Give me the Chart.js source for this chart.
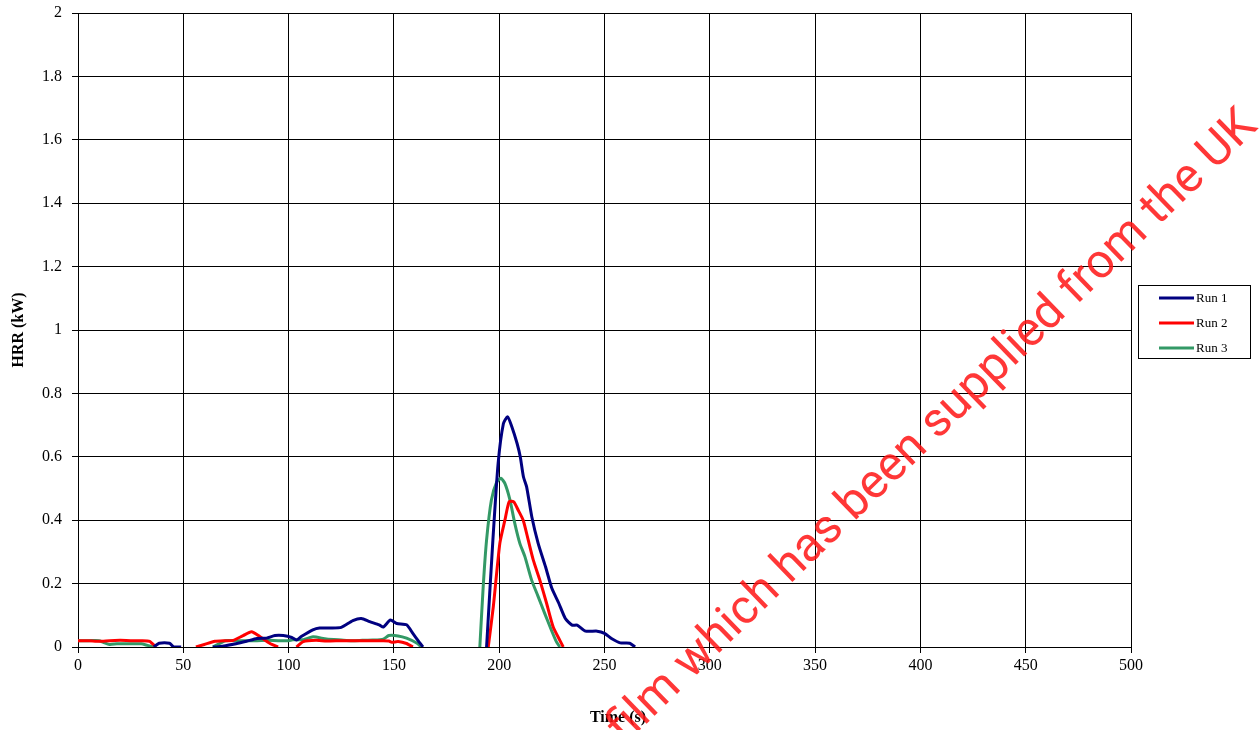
<!DOCTYPE html>
<html>
<head>
<meta charset="utf-8">
<script src="https://cdn.jsdelivr.net/npm/chart.js@4"></script>
<style>
  html, body { margin: 0; padding: 0; background: #fff; }
  #hrrChart { display: block; }
</style>
</head>
<body>
<canvas id="hrrChart" width="1260" height="730"></canvas>
<script>
// values (time in s, HRR in kW); null = gap where the trace leaves the plot
const run1Time = [36, 38.5, 43.5, 45.5, 49, 55, 64, 66, 70, 75, 80, 85, 89.5, 93.5, 97.5, 101.5, 103.7, 106, 111.5, 114.7, 120, 125, 130.5, 134.5, 138.5, 143, 145, 148.3, 151.4, 156, 159, 161.5, 163.8, 175, 194, 197, 199.5, 202, 204, 206, 208.5, 210, 211.5, 213, 215.5, 218.5, 222, 225, 228.3, 231.4, 234.6, 237, 241, 246.5, 250, 253.5, 257.5, 262, 264.5];
const run1Hrr  = [0, 0.012, 0.012, 0, 0, null, 0, 0, 0.004, 0.01, 0.018, 0.027, 0.028, 0.036, 0.036, 0.03, 0.022, 0.033, 0.054, 0.06, 0.06, 0.062, 0.083, 0.09, 0.08, 0.07, 0.063, 0.085, 0.074, 0.07, 0.043, 0.02, 0, null, 0, 0.337, 0.58, 0.705, 0.726, 0.695, 0.642, 0.6, 0.537, 0.506, 0.41, 0.327, 0.253, 0.185, 0.138, 0.09, 0.069, 0.069, 0.05, 0.05, 0.043, 0.026, 0.013, 0.012, 0];

const run2Time = [0, 5, 10, 15, 20, 25, 30, 34, 37, 45, 56, 60, 65, 70, 73.7, 78.4, 82.4, 86.3, 91, 95, 100, 103.7, 107, 113, 118, 125, 130, 135, 140, 145, 147.6, 149, 152, 156, 159, 175, 194.8, 197.2, 200.3, 202.7, 204.7, 206.9, 209, 211.4, 213.8, 216.2, 219.3, 222.5, 225.6, 228.8, 230.4];
const run2Hrr  = [0.02, 0.02, 0.018, 0.02, 0.021, 0.02, 0.02, 0.018, 0, null, 0, 0.008, 0.018, 0.02, 0.021, 0.036, 0.048, 0.033, 0.012, 0, null, 0, 0.017, 0.021, 0.019, 0.02, 0.02, 0.02, 0.02, 0.02, 0.019, 0.015, 0.017, 0.011, 0, null, 0, 0.127, 0.327, 0.4, 0.458, 0.458, 0.432, 0.4, 0.337, 0.274, 0.211, 0.138, 0.064, 0.021, 0];

const run3Time = [0, 5, 10, 12, 15, 18.5, 25, 30, 33, 36, 45, 64, 67, 70, 75, 80, 85, 90, 95, 100, 102, 107, 111.6, 118, 125, 130, 135, 140, 145, 147.6, 152, 156, 161, 163, 175, 190.8, 192.4, 194, 196.3, 198.8, 200.8, 202.7, 205.1, 207.4, 209.8, 212.2, 215.4, 218.5, 221.6, 224.8, 227.2, 228.8];
const run3Hrr  = [0.02, 0.02, 0.02, 0.015, 0.008, 0.01, 0.01, 0.01, 0.005, 0, null, 0, 0.01, 0.02, 0.02, 0.02, 0.02, 0.021, 0.02, 0.02, 0.023, 0.023, 0.032, 0.025, 0.022, 0.02, 0.021, 0.022, 0.025, 0.036, 0.035, 0.028, 0.012, 0, null, 0, 0.19, 0.337, 0.464, 0.52, 0.532, 0.516, 0.464, 0.39, 0.327, 0.285, 0.211, 0.159, 0.106, 0.053, 0.016, 0];

const seriesNames = ['Run 1', 'Run 2', 'Run 3'];
const seriesColors = ['#000080', '#ff0000', '#339966'];

const xTickValues = [0, 50, 100, 150, 200, 250, 300, 350, 400, 450, 500];
const yTickValues = [0, 0.2, 0.4, 0.6, 0.8, 1, 1.2, 1.4, 1.6, 1.8, 2];
const yTickLabels = ['0', '0.2', '0.4', '0.6', '0.8', '1', '1.2', '1.4', '1.6', '1.8', '2'];

const xTitle = 'Time (s)';
const watermarkText = 'film which has been supplied from the UK';

const toPoints = (xs, ys) => xs.map((x, i) => ({ x: x, y: ys[i] }));

const serif = '"Liberation Serif", "Times New Roman", serif';

// boxed legend on the right, like the spreadsheet one
const boxLegend = {
    id: 'boxLegend',
    afterDraw: (chart) => {
        const ctx = chart.ctx;
        ctx.save();
        ctx.strokeStyle = '#000';
        ctx.lineWidth = 1;
        ctx.strokeRect(1138.5, 285.5, 112, 73);
        chart.data.datasets.forEach((ds, i) => {
            const y = 298 + i * 25;
            ctx.strokeStyle = ds.borderColor;
            ctx.lineWidth = 3;
            ctx.beginPath();
            ctx.moveTo(1159, y);
            ctx.lineTo(1194, y);
            ctx.stroke();
            ctx.fillStyle = '#000';
            ctx.font = '13px ' + serif;
            ctx.textBaseline = 'middle';
            ctx.fillText(ds.label, 1196, y + 1);
        });
        // x axis title sits a bit right of the plot centre in the original
        ctx.font = 'bold 16px ' + serif;
        ctx.textAlign = 'center';
        ctx.fillText(xTitle, 618, 718);
        ctx.restore();
    },
};

// red diagonal watermark stamped over the picture
const watermark = {
    id: 'watermark',
    afterDraw: (chart) => {
        const ctx = chart.ctx;
        ctx.save();
        ctx.font = '44px Roboto, sans-serif';
        const w = ctx.measureText('which has been supplied from the UK').width;
        const size = 44 * 792 / w;
        ctx.font = size.toFixed(1) + 'px Roboto, sans-serif';
        ctx.translate(1259, 128);
        ctx.rotate(-44.2 * Math.PI / 180);
        ctx.fillStyle = 'rgba(255, 20, 20, 0.85)';
        ctx.textAlign = 'right';
        ctx.textBaseline = 'alphabetic';
        ctx.fillText(watermarkText, 0, 0);
        ctx.restore();
    },
};

new Chart(document.getElementById('hrrChart').getContext('2d'), {
    type: 'line',
    data: {
        datasets: [run1Time, run2Time, run3Time].map((t, i) => ({
            label: seriesNames[i],
            data: toPoints(t, [run1Hrr, run2Hrr, run3Hrr][i]),
            borderColor: seriesColors[i],
            backgroundColor: seriesColors[i],
            borderWidth: 3,
            pointRadius: 0,
            tension: 0.2,
            spanGaps: false,
        })),
    },
    options: {
        responsive: false,
        animation: false,
        layout: { padding: { top: 13, right: 129, left: 0, bottom: 0 } },
        plugins: { legend: { display: false }, tooltip: { enabled: false } },
        scales: {
            x: {
                type: 'linear',
                min: 0,
                max: 500,
                afterBuildTicks: (scale) => { scale.ticks = xTickValues.map(v => ({ value: v })); },
                afterFit: (scale) => { scale.height = 83; scale.paddingLeft = 0; scale.paddingRight = 0; },
                grid: { color: '#000', lineWidth: 1, tickLength: 6 },
                border: { color: '#000', width: 1 },
                ticks: { color: '#000', font: { family: serif, size: 16 }, padding: 3, maxRotation: 0 },
            },
            y: {
                min: 0,
                max: 2,
                afterBuildTicks: (scale) => { scale.ticks = yTickValues.map(v => ({ value: v })); },
                afterFit: (scale) => { scale.width = 78; scale.paddingTop = 0; scale.paddingBottom = 0; },
                grid: { color: '#000', lineWidth: 1, tickLength: 6 },
                border: { color: '#000', width: 1 },
                ticks: { color: '#000', font: { family: serif, size: 16 }, padding: 10, callback: (v, i) => yTickLabels[i] },
                title: { display: true, text: 'HRR (kW)', color: '#000', font: { family: serif, size: 16, weight: 'bold' }, padding: { top: 9 } },
            },
        },
    },
    plugins: [boxLegend, watermark],
});
</script>
</body>
</html>
